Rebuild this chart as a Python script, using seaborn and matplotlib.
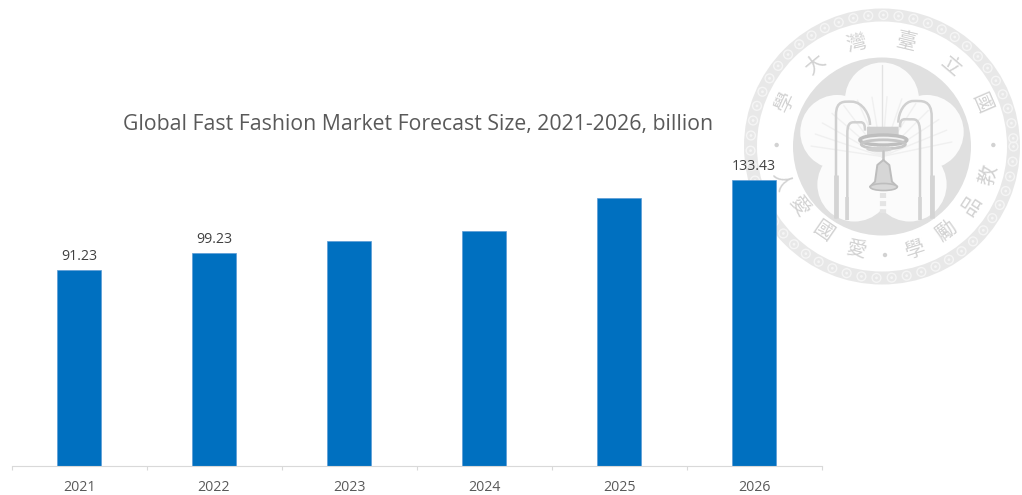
import numpy as np
import pandas as pd
import matplotlib
matplotlib.use("Agg")
import matplotlib.pyplot as plt
from matplotlib.patches import Circle, Polygon, Ellipse, PathPatch, FancyBboxPatch
from matplotlib.path import Path
import seaborn as sns

years = ["2021", "2022", "2023", "2024", "2025", "2026"]
market_size = [91.23, 99.23, 105.0, 109.7, 124.8, 133.43]
value_labels = ["91.23", "99.23", "", "", "", "133.43"]
title_text = "Global Fast Fashion Market Forecast Size, 2021-2026, billion"
seal_top = ["學", "大", "灣", "臺", "立", "國"]
seal_top_pos = [(195, 305), (285, 195), (410, 130), (560, 125), (690, 200), (785, 310)]
seal_bottom = ["人", "愛", "國", "愛", "學", "勵", "品", "教"]
seal_bottom_pos = [(180, 545), (235, 620), (310, 695), (410, 750),
                   (585, 750), (680, 695), (755, 615), (805, 525)]

W, H = 1022, 495
BLUE = "#0070C0"
GREY = "#595959"
SEAL = "#E0E0E0"
CHAR = "#D2D2D2"

sns.set_theme(style="white")
plt.rcParams["font.family"] = ["Open Sans", "DejaVu Sans"]

fig = plt.figure(figsize=(W / 100, H / 100), dpi=100, facecolor="white")

# University seal behind the chart, laid out in pixel coordinates
seal = fig.add_axes([0, 0, 1, 1], zorder=0)
seal.set_xlim(0, W)
seal.set_ylim(H, 0)
seal.axis("off")
cx, cy = 882.0, 146.5


def px(zx, zy):
    """Ring-level layout coordinates to pixels."""
    return 720 + zx / 3, zy / 3


def cp(zx, zy):
    """Centre-emblem layout coordinates to pixels."""
    return 820 + zx / 3, 80 + zy / 3


def arch(foot_x, foot_y, side_top, top_x, top_y, end_x, end_y, color, lw):
    """One arch: a straight leg, a rounded top, then a short drop towards the rings."""
    verts = [cp(foot_x, foot_y), cp(foot_x, side_top),
             cp(foot_x, top_y - 5), cp(foot_x + 0.55 * (top_x - foot_x), top_y), cp(top_x, top_y),
             cp(top_x + 0.6 * (end_x - top_x), top_y), cp(end_x, end_y - 30), cp(end_x, end_y)]
    codes = [Path.MOVETO, Path.LINETO, Path.CURVE4, Path.CURVE4, Path.CURVE4,
             Path.CURVE4, Path.CURVE4, Path.CURVE4]
    seal.add_patch(PathPatch(Path(verts, codes), fc="none", ec=color, lw=lw,
                             capstyle="butt", zorder=3))


seal.add_patch(Circle((cx, cy), 138, fc="#E8E8E8", ec="none"))
seal.add_patch(Circle((cx, cy), 125, fc="white", ec="none"))
for a in np.arange(0, 360, 6.6):
    r = np.deg2rad(a)
    sx, sy = cx + 131.5 * np.cos(r), cy + 131.5 * np.sin(r)
    seal.add_patch(Circle((sx, sy), 4.4, fc="none", ec="#F5F5F5", lw=1.0))
    seal.add_patch(Circle((sx, sy), 1.4, fc="#F5F5F5", ec="none"))

seal.add_patch(Circle((cx, cy), 89, fc=SEAL, ec="none"))
for a in [-90, -162, -18, 126, 54]:
    r = np.deg2rad(a)
    seal.add_patch(Circle((cx + 47 * np.cos(r), cy + 47 * np.sin(r)), 37,
                          fc="#FBFBFB", ec="none", zorder=1))
seal.add_patch(Circle((cx, cy), 38, fc="#FBFBFB", ec="none", zorder=1))

# Palm fronds fanning out behind the bell
for a in np.arange(-170, -5, 12):
    r = np.deg2rad(a)
    seal.plot([cx, cx + 72 * np.cos(r)], [cy + 10, cy + 10 + 60 * np.sin(r)],
              color="#F0F0F0", lw=1.0, zorder=2)
seal.plot([cx, cx], [cy - 10, cy - 82], color="#E2E2E2", lw=1.0, zorder=2)

# Double arches on both sides of the bell, thicker towards their feet
arch(48, 415, 105, 95, 65, 150, 135, "#D0D0D0", 1.8)
arch(82, 420, 160, 110, 127, 135, 152, "#D0D0D0", 1.8)
arch(335, 415, 110, 280, 63, 235, 128, "#D0D0D0", 1.8)
arch(300, 420, 160, 270, 118, 240, 142, "#D0D0D0", 1.8)
for fx in (48, 335):
    seal.plot(*zip(cp(fx, 285), cp(fx, 415)), color="#D4D4D4", lw=3.4, zorder=3,
              solid_capstyle="butt")
for fx in (82, 300):
    seal.plot(*zip(cp(fx, 350), cp(fx, 420)), color="#D4D4D4", lw=2.6, zorder=3,
              solid_capstyle="butt")

# Stacked rings holding the bell
x0, y0 = cp(142, 141)
seal.add_patch(FancyBboxPatch((x0, y0), 31, 8, boxstyle="round,pad=0.3", fc="#D0D0D0",
                              ec="none", zorder=4))
seal.add_patch(Ellipse(cp(190, 180), 47, 10, fc="#F2F2F2", ec="#BEBEBE", lw=2.4, zorder=4))
seal.add_patch(Ellipse(cp(190, 193), 44, 9, fc="none", ec="#C6C6C6", lw=2.0, zorder=4))
seal.add_patch(Ellipse(cp(178, 208), 26, 5, fc="#CFCFCF", ec="none", zorder=4))

# Bell with its clapper chain
seal.plot(*zip(cp(190, 212), cp(190, 245)), color="#C4C4C4", lw=1.8, zorder=4)
bell = [cp(190, 240), cp(172, 255), cp(165, 305), cp(150, 320), cp(232, 320),
        cp(216, 305), cp(208, 255)]
seal.add_patch(Polygon(bell, closed=True, fc="#D6D6D6", ec="#BDBDBD", lw=1.4,
                       joinstyle="round", zorder=4))
seal.add_patch(Ellipse(cp(191, 321), 27, 7, fc="#D8D8D8", ec="#BDBDBD", lw=1.2, zorder=4))
seal.plot(*zip(cp(190, 338), cp(190, 398)), color="#E4E4E4", lw=4.5,
          ls=(0, (0.8, 0.5)), zorder=4)

# Seal characters around the ring; bottom characters face the centre
for ch, (zx, zy) in zip(seal_top, seal_top_pos):
    x, y = px(zx, zy)
    rot = -np.degrees(np.arctan2(x - cx, cy - y))
    seal.text(x, y, ch, ha="center", va="center", rotation=rot, color=CHAR,
              fontsize=14.5, family=["Noto Sans CJK TC", "DejaVu Sans"])
for ch, (zx, zy) in zip(seal_bottom, seal_bottom_pos):
    x, y = px(zx, zy)
    rot = np.degrees(np.arctan2(x - cx, y - cy))
    seal.text(x, y, ch, ha="center", va="center", rotation=rot, color=CHAR,
              fontsize=14.5, family=["Noto Sans CJK TC", "DejaVu Sans"])
for zx, zy in [(170, 435), (820, 435), (495, 765)]:
    seal.add_patch(Circle(px(zx, zy), 2.2, fc=CHAR, ec="none"))

# Bar chart on a transparent axes above the seal
ax_left, ax_right, ax_top, ax_base = 11.5, 821.5, 100, 466.3
ax = fig.add_axes([ax_left / W, 1 - ax_base / H, (ax_right - ax_left) / W,
                   (ax_base - ax_top) / H], zorder=1)
ax.patch.set_alpha(0)
df = pd.DataFrame({"year": years, "size": market_size})
sns.barplot(data=df, x="year", y="size", color=BLUE, saturation=1, width=0.32,
            ax=ax, edgecolor="#5B9BD5", linewidth=0.5)
ax.set_xlim(-0.5, 5.5)
ax.set_ylim(0, (ax_base - ax_top) / 2.147)
ax.set_xlabel("")
ax.set_ylabel("")
ax.set_yticks([])
ax.set_xticks(np.arange(0, 6))
ax.set_xticklabels(years, fontsize=10.2, color=GREY)
ax.tick_params(axis="x", length=0, pad=10)
ax.set_xticks(np.arange(-0.5, 6), minor=True)
ax.tick_params(axis="x", which="minor", length=3.2, width=0.8, color="#D9D9D9", bottom=True)
for name in ("top", "left", "right"):
    ax.spines[name].set_visible(False)
ax.spines["bottom"].set_color("#D9D9D9")
ax.spines["bottom"].set_linewidth(0.8)
ax.bar_label(ax.containers[0], labels=value_labels, padding=4.5, fontsize=10.2,
             color="#404040")

fig.text(418 / W, 1 - 124 / H, title_text, ha="center", va="center",
         fontsize=15.35, color=GREY, zorder=5)

fig.savefig("out.png", dpi=100, facecolor="white")
